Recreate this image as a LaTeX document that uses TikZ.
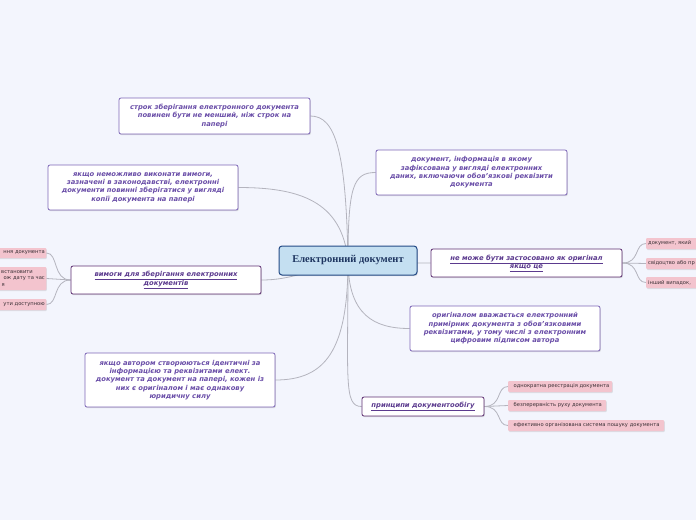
\documentclass[tikz,border=0pt]{standalone}
\usepackage{fontspec}
\setmainfont{DejaVu Sans}
\newfontfamily\serifb{Liberation Serif}
\usetikzlibrary{shadows,backgrounds}
\definecolor{bg}{HTML}{F3F5FD}
\definecolor{topictext}{HTML}{6A4EA8}
\definecolor{topicborder}{HTML}{7E67B8}
\definecolor{linkborder}{HTML}{5E2F72}
\definecolor{linktext}{HTML}{5B3A8E}
\definecolor{centerfill}{HTML}{C4DFF1}
\definecolor{centerborder}{HTML}{234A86}
\definecolor{centertext}{HTML}{1E3560}
\definecolor{leaffill}{HTML}{F3C4CE}
\definecolor{leaftext}{HTML}{3A3035}
\definecolor{conn}{HTML}{B4B4BE}
\tikzset{
  topic/.style={draw=topicborder, line width=0.8pt, rounded corners=2pt, fill=white,
    text=topictext, align=center, inner sep=0pt,
    font=\fontsize{6.8}{8.3}\selectfont\bfseries\itshape,
    drop shadow={opacity=0.25, shadow xshift=0.8pt, shadow yshift=-1.2pt}},
  linktopic/.style={topic, draw=linkborder, text=linktext},
  centre/.style={draw=centerborder, line width=1pt, rounded corners=3pt, fill=centerfill,
    text=centertext, font=\serifb\fontsize{10.5}{12}\selectfont\bfseries, inner sep=0pt,
    minimum width=138pt, minimum height=29pt,
    drop shadow={opacity=0.25, shadow xshift=0.8pt, shadow yshift=-1.2pt}},
  leaf/.style={fill=leaffill, rounded corners=1pt, text=leaftext, inner sep=0pt,
    font=\fontsize{5.2}{6.6}\selectfont,
    drop shadow={opacity=0.2, shadow xshift=0.6pt, shadow yshift=-1pt}},
  conline/.style={draw=conn, line width=0.8pt}
}
\begin{document}
\begin{tikzpicture}[x=1pt,y=-1pt]
\begin{pgfonlayer}{background}
\fill[bg] (0,0) rectangle (696,520);
\end{pgfonlayer}
\clip (0,0) rectangle (696,520);

% central
\node[centre] (c) at (348,260.5) {Електронний документ};

% topics
\node[topic, minimum width=191pt, minimum height=36pt] (b1) at (214.5,116)
  {строк зберігання електронного документа\\повинен бути не менший, ніж строк на\\папері};
\node[topic, minimum width=190pt, minimum height=45pt] (b2) at (143,187.5)
  {якщо неможливо виконати вимоги,\\зазначені в законодавстві, електронні\\документи повинні зберігатися у вигляді\\копії документа на папері};
\node[topic, minimum width=191pt, minimum height=45pt] (b3) at (471.5,172.5)
  {документ, інформація в якому\\зафіксована у вигляді електронних\\даних, включаючи обов'язкові реквізити\\документа};
\node[linktopic, minimum width=191pt, minimum height=28pt] (b4) at (526.5,263)
  {\underline{не може бути застосовано як оригінал}\\\underline{якщо це}};
\node[linktopic, minimum width=190pt, minimum height=28pt] (b5) at (166,280)
  {\underline{вимоги для зберігання електронних}\\\underline{документів}};
\node[topic, minimum width=190pt, minimum height=45pt] (b6) at (505,328.5)
  {оригіналом вважається електронний\\примірник документа з обов'язковими\\реквізитами, у тому числі з електронним\\цифровим підписом автора};
\node[topic, minimum width=190pt, minimum height=54pt] (b7) at (180,380)
  {якщо автором створюються ідентичні за\\інформацією та реквізитами елект.\\документ та документ на папері, кожен із\\них є оригіналом і має однакову\\юридичну силу};
\node[linktopic, minimum width=122pt, minimum height=19pt] (b8) at (423,406.5)
  {\underline{принципи документообігу}};

% leaves right of b4
\node[leaf, anchor=west, minimum width=80pt, minimum height=11pt, text width=76pt, align=left] (r1) at (646,243.5) {документ, який};
\node[leaf, anchor=west, minimum width=80pt, minimum height=11pt, text width=76pt, align=left] (r2) at (646,263.5) {свідоцтво або пр};
\node[leaf, anchor=west, minimum width=80pt, minimum height=11pt, text width=76pt, align=left] (r3) at (646,282.5) {інший випадок,};

% leaves left of b5
\node[leaf, anchor=east, minimum width=80pt, minimum height=10pt, text width=77pt, align=right] (q1) at (46.5,253) {ння документа};
\node[leaf, anchor=east, minimum width=80pt, minimum height=23pt, text width=77pt, align=right] (q2) at (46.5,278.5)
  {встановити\makebox[12pt]{}\\ож дату та час\\я\makebox[40pt]{}};
\node[leaf, anchor=east, minimum width=80pt, minimum height=11pt, text width=77pt, align=right] (q3) at (46.5,304.5) {ути доступною};

% leaves of b8
\node[leaf, anchor=west, minimum width=104pt, minimum height=11pt, text width=99pt, align=left] (p1) at (508,386.5) {\hspace*{3pt}однократна реєстрація документа};
\node[leaf, anchor=west, minimum width=98pt, minimum height=11pt, text width=93pt, align=left] (p2) at (508,405.5) {\hspace*{3pt}безперервність руху документа};
\node[leaf, anchor=west, minimum width=156pt, minimum height=11pt, text width=151pt, align=left] (p3) at (508,425.5) {\hspace*{3pt}ефективно організована система пошуку документа};

% connectors (behind nodes)
\begin{pgfonlayer}{background}
\draw[conline] (c.center) .. controls +(-2,-110) and +(25,0) .. (b1.east);
\draw[conline] (c.center) .. controls +(-6,-60) and +(60,0) .. (b2.east);
\draw[conline] (c.center) .. controls +(0,-75) and +(-22,0) .. (b3.west);
\draw[conline] (c.center) .. controls +(40,3) and +(-20,0) .. (b4.west);
\draw[conline] (c.center) .. controls +(-40,10) and +(30,0) .. (b5.east);
\draw[conline] (c.center) .. controls +(0,55) and +(-35,0) .. (b6.west);
\draw[conline] (c.center) .. controls +(0,90) and +(50,0) .. (b7.east);
\draw[conline] (c.center) .. controls +(0,120) and +(-18,0) .. (b8.west);
\draw[conline] (b4.east) .. controls +(18,0) and +(-12,0) .. (r1.west);
\draw[conline] (b4.east) .. controls +(12,0) and +(-12,0) .. (r2.west);
\draw[conline] (b4.east) .. controls +(18,0) and +(-12,0) .. (r3.west);
\draw[conline] (b5.west) .. controls +(-18,0) and +(12,0) .. (q1.east);
\draw[conline] (b5.west) .. controls +(-12,0) and +(12,0) .. (q2.east);
\draw[conline] (b5.west) .. controls +(-18,0) and +(12,0) .. (q3.east);
\draw[conline] (b8.east) .. controls +(18,0) and +(-12,0) .. (p1.west);
\draw[conline] (b8.east) .. controls +(12,0) and +(-12,0) .. (p2.west);
\draw[conline] (b8.east) .. controls +(18,0) and +(-12,0) .. (p3.west);
\end{pgfonlayer}
\end{tikzpicture}
\end{document}
